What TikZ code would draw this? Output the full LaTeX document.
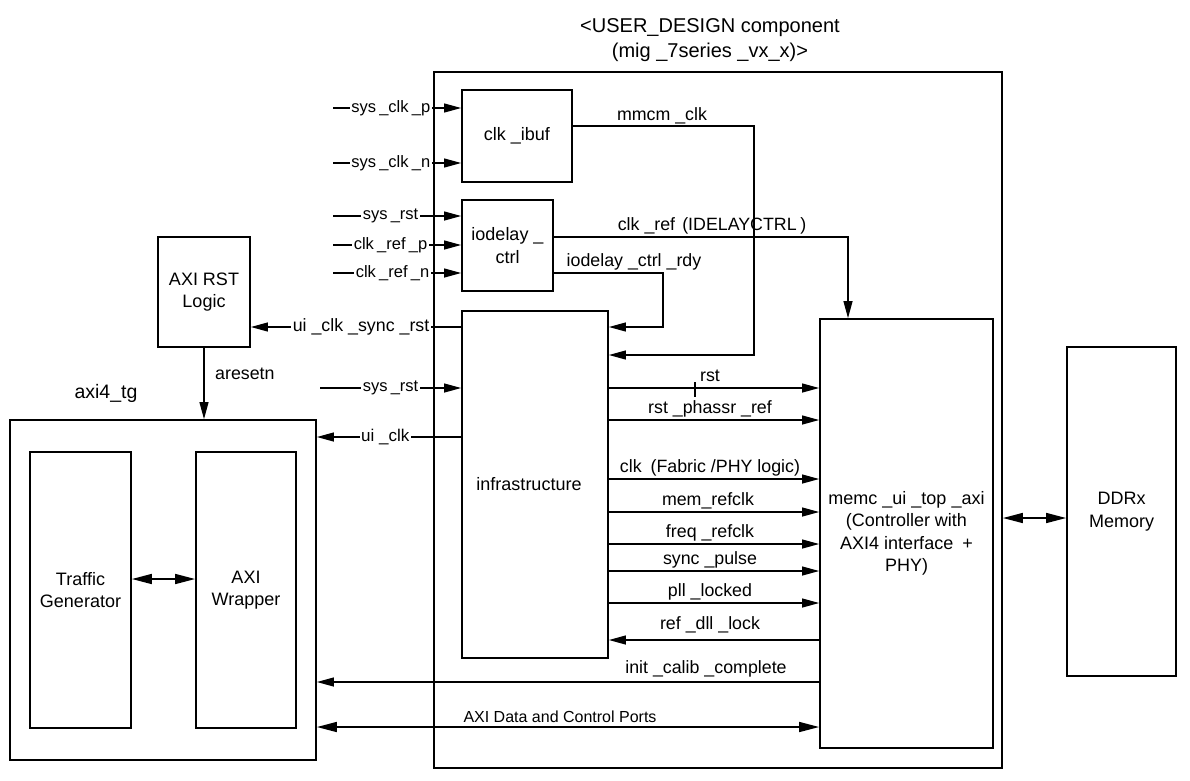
\documentclass[tikz,border=0pt]{standalone}
\usepackage{fontspec}
\setmainfont{Liberation Sans}
\usetikzlibrary{arrows.meta}
\newcommand\blkfont{\fontsize{18}{22.5}\selectfont}
\newcommand\titlefont{\fontsize{20}{25}\selectfont}
\newcommand\sigfont{\fontsize{17.8}{20}\selectfont}
\newcommand\pinfont{\fontsize{16.5}{19}\selectfont\spaceskip=0.2em\relax}
\newcommand\portfont{\fontsize{16}{18}\selectfont}
\tikzset{
	blk/.style={draw, line width=1.8pt, inner sep=0pt, align=center, font=\blkfont},
	sig/.style={line width=1.2pt, -{Triangle[length=17pt,width=9pt]}},
	bisig/.style={line width=1.6pt, {Triangle[length=20pt,width=10pt]}-{Triangle[length=20pt,width=10pt]}},
	lbl/.style={font=\sigfont, anchor=base, inner sep=0pt},
	pin/.style={font=\pinfont, anchor=east, fill=white, inner sep=1.5pt},
}
\begin{document}
\begin{tikzpicture}[x=1pt,y=-1pt]
	\useasboundingbox (0,0) rectangle (1190,780);
	\node[blk, minimum width=568pt, minimum height=696pt] (design) at (718,420) {};
	\node[font=\titlefont, align=center, inner sep=0pt] (title) at (710,40) {<USER\_DESIGN component\\(mig \_7series \_vx\_x)>};
	\node[blk, minimum width=110pt, minimum height=92pt] (ibuf) at (517,136) {clk \_ibuf};
	\node[blk, minimum width=91pt, minimum height=91pt] (iodly) at (507.5,245.5) {iodelay \_\\ctrl};
	\node[blk, minimum width=146pt, minimum height=347pt] (infra) at (535,484.5) {};
	\node[font=\blkfont, inner sep=0pt] (infratext) at (529,484) {infrastructure};
	\node[blk, minimum width=173pt, minimum height=429pt] (memc) at (906.5,533.5) {memc \_ui \_top \_axi\\(Controller with\\AXI4 interface\hspace{0.5em}+\\PHY)};
	\node[blk, minimum width=109pt, minimum height=329pt] (ddr) at (1121.5,511.5) {DDRx\\Memory};
	\node[blk, minimum width=92pt, minimum height=110pt] (axirst) at (204,292) {AXI RST\\Logic};
	\node[blk, minimum width=306pt, minimum height=340pt] (tg) at (163,590) {};
	\node[font=\fontsize{19.5}{22}\selectfont, inner sep=0pt] (tgname) at (106,393) {axi4\_tg};
	\node[blk, minimum width=101pt, minimum height=276pt] (trafgen) at (80.5,590) {Traffic\\Generator};
	\node[blk, minimum width=100pt, minimum height=276pt] (wrap) at (246,590) {AXI\\Wrapper};

	\coordinate (sclkp) at (333,108);
	\coordinate (sclkn) at (333,163);
	\coordinate (srst) at (333,216);
	\coordinate (crefp) at (333,245);
	\coordinate (crefn) at (333,273);
	\coordinate (srst2) at (320,388);

	\draw[sig] (sclkp) -- (ibuf.west |- sclkp);
	\draw[sig] (sclkn) -- (ibuf.west |- sclkn);
	\draw[sig] (srst) -- (iodly.west |- srst);
	\draw[sig] (crefp) -- (iodly.west |- crefp);
	\draw[sig] (crefn) -- (iodly.west |- crefn);
	\draw[sig] (srst2) -- (infra.west |- srst2);
	\draw[sig] (infra.west |- 0,327) -- (axirst.east |- 0,327);
	\draw[sig] (infra.west |- 0,437) -- (tg.east |- 0,437);
	\node[pin] (lsclkp) at (432,108) {sys \_clk \_p};
	\node[pin] (lsclkn) at (432,163) {sys \_clk \_n};
	\node[pin] (lsrst) at (420,216) {sys \_rst};
	\node[pin] (lcrefp) at (429,245) {clk \_ref \_p};
	\node[pin] (lcrefn) at (431,273) {clk \_ref \_n};
	\node[pin] (lsrst2) at (420,388) {sys \_rst};
	\node[pin, font=\sigfont] (lsync) at (431,327) {ui \_clk \_sync \_rst};
	\node[pin, font=\fontsize{17}{19}\selectfont] (luiclk) at (411,437) {ui \_clk};

	\draw[sig] (axirst.south) -- (axirst.south |- tg.north);
	\node[font=\sigfont, anchor=west, inner sep=0pt] (laresetn) at (215,374) {aresetn};
	\draw[bisig] (trafgen.east |- 0,579) -- (wrap.west |- 0,579);

	\draw[sig] (ibuf.east |- 0,126) -- (754,126) -- (754,355) -- (infra.east |- 0,355);
	\node[lbl] (lmmcm) at (662,120) {mmcm \_clk};
	\draw[sig] (iodly.east |- 0,237) -- (848,237) -- (memc.north -| 848,0);
	\node[lbl] (lcref) at (712,230) {clk \_ref\hspace{0.4em}(IDELAYCTRL\hspace{0.2em})};
	\draw[sig] (iodly.east |- 0,273) -- (663,273) -- (663,327) -- (infra.east |- 0,327);
	\node[lbl] (lrdy) at (634,266) {iodelay \_ctrl \_rdy};

	\draw[sig] (infra.east |- 0,388) -- (memc.west |- 0,388) node[lbl, midway, yshift=7pt, xshift=-4pt] {rst};
	\draw[line width=1.2pt] (695,382) -- (695,397);
	\draw[sig] (infra.east |- 0,420) -- (memc.west |- 0,420) node[lbl, midway, yshift=7pt, xshift=-4pt] {rst \_phassr \_ref};
	\draw[sig] (infra.east |- 0,479) -- (memc.west |- 0,479) node[lbl, midway, yshift=7pt, xshift=-4pt] {clk\hspace{0.5em}(Fabric /PHY\hspace{0.28em}logic)};
	\draw[sig] (infra.east |- 0,512) -- (memc.west |- 0,512) node[lbl, midway, yshift=7pt, xshift=-6pt] {mem\_refclk};
	\draw[sig] (infra.east |- 0,544) -- (memc.west |- 0,544) node[lbl, midway, yshift=7pt, xshift=-4pt] {freq \_refclk};
	\draw[sig] (infra.east |- 0,571) -- (memc.west |- 0,571) node[lbl, midway, yshift=7pt, xshift=-4pt] {sync \_pulse};
	\draw[sig] (infra.east |- 0,603) -- (memc.west |- 0,603) node[lbl, midway, yshift=7pt, xshift=-4pt] {pll \_locked};
	\draw[sig] (memc.west |- 0,640) -- (infra.east |- 0,640) node[lbl, midway, yshift=11pt, xshift=-4pt] {ref \_dll \_lock};
	\draw[sig] (memc.west |- 0,682) -- (tg.east |- 0,682);
	\node[lbl] (lcalib) at (706,673) {init \_calib \_complete};
	\draw[bisig] (tg.east |- 0,727) -- (memc.west |- 0,727);
	\node[font=\portfont, anchor=base, inner sep=0pt] (lports) at (560,722) {AXI Data and Control Ports};
	\draw[bisig] (design.east |- 0,518) -- (ddr.west |- 0,518);
\end{tikzpicture}
\end{document}
